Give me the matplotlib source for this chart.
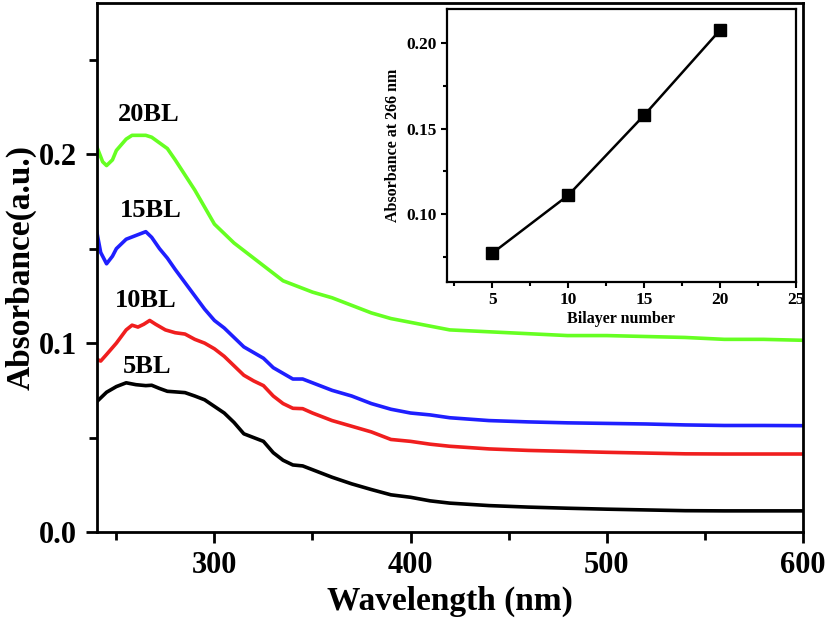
import matplotlib
matplotlib.use("Agg")
import matplotlib.pyplot as plt
from matplotlib.ticker import MultipleLocator, FormatStrFormatter

# UV-vis spectra of the LbL films
wl_5 = [240, 245, 250, 255, 260, 265, 268, 272, 276, 280, 285, 290, 295, 300, 305, 310, 315,
        320, 325, 330, 335, 340, 345, 350, 360, 370, 380, 390, 400, 410, 420, 440, 460, 480,
        500, 520, 540, 560, 580, 600]
abs_5 = [0.069, 0.074, 0.077, 0.079, 0.078, 0.0775, 0.0777, 0.076, 0.0745, 0.0742, 0.0738,
         0.072, 0.070, 0.0665, 0.063, 0.058, 0.052, 0.050, 0.048, 0.042, 0.038, 0.0355, 0.035,
         0.033, 0.029, 0.0255, 0.0225, 0.0197, 0.0184, 0.0165, 0.0153, 0.014, 0.0132, 0.0126,
         0.0121, 0.0117, 0.0113, 0.0112, 0.0112, 0.0112]

wl_10 = [240, 242, 245, 250, 255, 258, 261, 264, 267, 270, 275, 280, 285, 290, 295, 300, 305,
         310, 315, 320, 325, 330, 335, 340, 345, 350, 360, 370, 380, 390, 400, 410, 420, 440,
         460, 480, 500, 520, 540, 560, 580, 600]
abs_10 = [0.0915, 0.0905, 0.094, 0.100, 0.107, 0.1095, 0.1085, 0.110, 0.112, 0.110, 0.107,
          0.1055, 0.1048, 0.102, 0.100, 0.097, 0.093, 0.088, 0.083, 0.080, 0.0775, 0.072, 0.068,
          0.0655, 0.0653, 0.063, 0.059, 0.056, 0.053, 0.049, 0.048, 0.0465, 0.0454, 0.044,
          0.0432, 0.0427, 0.0422, 0.0418, 0.0414, 0.0413, 0.0413, 0.0413]

wl_15 = [240, 242, 245, 248, 250, 255, 260, 265, 268, 272, 276, 280, 285, 290, 295, 300, 305,
         310, 315, 320, 325, 330, 335, 340, 345, 350, 360, 370, 380, 390, 400, 410, 420, 440,
         460, 480, 500, 520, 540, 560, 580, 600]
abs_15 = [0.159, 0.148, 0.142, 0.146, 0.150, 0.155, 0.157, 0.159, 0.156, 0.150, 0.145, 0.139,
          0.132, 0.125, 0.118, 0.112, 0.108, 0.103, 0.098, 0.095, 0.092, 0.087, 0.084, 0.081,
          0.081, 0.079, 0.075, 0.072, 0.068, 0.065, 0.063, 0.062, 0.0605, 0.059, 0.0583,
          0.0578, 0.0575, 0.0572, 0.0567, 0.0564, 0.0564, 0.0563]

wl_20 = [240, 243, 245, 248, 250, 255, 258, 265, 268, 272, 276, 280, 285, 290, 295, 300, 305,
         310, 315, 320, 325, 330, 335, 340, 345, 350, 360, 370, 380, 390, 400, 410, 420, 440,
         460, 480, 500, 520, 540, 560, 580, 600]
abs_20 = [0.204, 0.196, 0.194, 0.197, 0.202, 0.208, 0.210, 0.210, 0.209, 0.206, 0.203, 0.197,
          0.189, 0.181, 0.172, 0.163, 0.158, 0.153, 0.149, 0.145, 0.141, 0.137, 0.133, 0.131,
          0.129, 0.127, 0.124, 0.120, 0.116, 0.113, 0.111, 0.109, 0.107, 0.106, 0.105, 0.104,
          0.104, 0.1035, 0.103, 0.102, 0.102, 0.1015]

curve_labels = ["5BL", "10BL", "15BL", "20BL"]
label_x = [265.8, 265, 267.5, 266.5]
label_y = [0.0878, 0.1223, 0.170, 0.221]

# inset: absorbance at 266 nm vs bilayer number
bilayers = [5, 10, 15, 20]
abs_266 = [0.077, 0.111, 0.158, 0.208]

plt.rcParams['font.family'] = ['Liberation Serif', 'DejaVu Serif']
plt.rcParams['font.weight'] = 'bold'

fig = plt.figure(figsize=(8.27, 6.19), dpi=100)
ax = fig.add_axes([0.117, 0.1405, 0.8537, 0.8545])

colors = ['black', '#f01e1e', '#1f1fff', '#66ff22']
spectra = [(wl_5, abs_5), (wl_10, abs_10), (wl_15, abs_15), (wl_20, abs_20)]
for (wl, ab), c in zip(spectra, colors):
    ax.plot(wl, ab, color=c, lw=2.6, solid_joinstyle='round')

for name, x, y in zip(curve_labels, label_x, label_y):
    ax.text(x, y, name, fontsize=19, fontweight='bold', ha='center', va='center')

ax.set_xlim(240, 600)
ax.set_ylim(0, 0.28)
ax.xaxis.set_major_locator(MultipleLocator(100))
ax.xaxis.set_minor_locator(MultipleLocator(50))
ax.yaxis.set_major_locator(MultipleLocator(0.1))
ax.yaxis.set_minor_locator(MultipleLocator(0.05))
ax.yaxis.set_major_formatter(FormatStrFormatter('%.1f'))
ax.tick_params(which='major', direction='out', length=8, width=2, labelsize=22, pad=6)
ax.tick_params(which='minor', direction='out', length=6, width=2)
for s in ax.spines.values():
    s.set_linewidth(2)
ax.set_xlabel('Wavelength (nm)', fontsize=24, fontweight='bold')
ax.set_ylabel('Absorbance(a.u.)', fontsize=24, fontweight='bold', labelpad=2)

# inset
axi = fig.add_axes([0.540, 0.544, 0.423, 0.441])
axi.plot(bilayers, abs_266, color='black', lw=1.8, marker='s', markersize=8)
axi.set_xlim(2, 25)
axi.set_ylim(0.06, 0.22)
axi.xaxis.set_major_locator(MultipleLocator(5))
axi.xaxis.set_minor_locator(MultipleLocator(2.5))
axi.yaxis.set_major_locator(MultipleLocator(0.05))
axi.yaxis.set_minor_locator(MultipleLocator(0.025))
axi.yaxis.set_major_formatter(FormatStrFormatter('%.2f'))
axi.tick_params(which='major', direction='out', length=4, width=1.5, labelsize=12.5, pad=3)
axi.tick_params(which='minor', direction='out', length=3, width=1.5)
for s in axi.spines.values():
    s.set_linewidth(1.6)
axi.set_xlabel('Bilayer number', fontsize=11.5, fontweight='bold', labelpad=2)
axi.set_ylabel('Absorbance at 266 nm', fontsize=11.5, fontweight='bold', labelpad=4)

fig.savefig('out.png', dpi=100)
